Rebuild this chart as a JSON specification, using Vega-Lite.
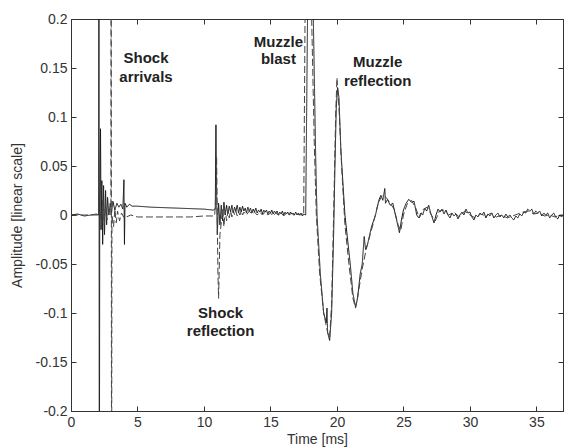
{
  "$schema": "https://vega.github.io/schema/vega-lite/v6.json",
  "width": 492,
  "height": 392,
  "autosize": {"type": "none"},
  "padding": {"left": 71, "top": 19, "right": 1, "bottom": 36},
  "background": "white",
  "config": {
    "view": {"stroke": "#333", "strokeWidth": 1},
    "font": "Liberation Sans",
    "axis": {
      "domainColor": "#333", "tickColor": "#333", "labelColor": "#333", "titleColor": "#333",
      "labelFont": "Liberation Sans", "titleFont": "Liberation Sans",
      "labelFontSize": 14, "titleFontSize": 14, "titleFontWeight": "normal",
      "grid": false, "tickSize": -5, "labelPadding": 9, "labelFlush": false, "labelOverlap": false
    }
  },
  "datasets": {
    "sig": [
      {"s":"a","t":0,"v":0.0},{"s":"a","t":0.5,"v":0.001},{"s":"a","t":1.0,"v":-0.001},{"s":"a","t":1.5,"v":0.0},{"s":"a","t":1.9,"v":0.001},
      {"s":"a","t":2.08,"v":0.0},{"s":"a","t":2.1,"v":0.4},{"s":"a","t":2.13,"v":-0.4},{"s":"a","t":2.16,"v":0.0},{"s":"a","t":2.22,"v":0.088},
      {"s":"a","t":2.26,"v":-0.015},{"s":"a","t":2.32,"v":0.035},{"s":"a","t":2.38,"v":-0.03},{"s":"a","t":2.45,"v":0.03},{"s":"a","t":2.52,"v":-0.02},
      {"s":"a","t":2.6,"v":0.025},{"s":"a","t":2.68,"v":-0.01},{"s":"a","t":2.75,"v":0.018},{"s":"a","t":2.85,"v":0.0},{"s":"a","t":2.95,"v":0.012},
      {"s":"a","t":3.05,"v":0.002},{"s":"a","t":3.15,"v":0.014},{"s":"a","t":3.3,"v":0.005},{"s":"a","t":3.45,"v":0.012},{"s":"a","t":3.6,"v":0.008},
      {"s":"a","t":3.75,"v":0.011},{"s":"a","t":3.9,"v":0.006},{"s":"a","t":3.98,"v":0.036},{"s":"a","t":4.02,"v":-0.03},{"s":"a","t":4.06,"v":0.012},
      {"s":"a","t":4.2,"v":0.008},{"s":"a","t":4.4,"v":0.011},{"s":"a","t":4.6,"v":0.009},{"s":"a","t":5.0,"v":0.009},{"s":"a","t":6.0,"v":0.008},
      {"s":"a","t":7.0,"v":0.0075},{"s":"a","t":8.0,"v":0.007},{"s":"a","t":9.0,"v":0.0065},{"s":"a","t":10.0,"v":0.006},{"s":"a","t":10.7,"v":0.005},
      {"s":"a","t":10.85,"v":0.006},{"s":"a","t":10.9,"v":0.092},{"s":"a","t":10.95,"v":0.02},{"s":"a","t":11.0,"v":-0.02},{"s":"a","t":11.1,"v":0.012},
      {"s":"a","t":11.2,"v":-0.01},{"s":"a","t":11.3,"v":0.01},{"s":"a","t":11.4,"v":-0.006},{"s":"a","t":11.5,"v":0.013},{"s":"a","t":11.6,"v":0.0},
      {"s":"a","t":11.7,"v":0.01},{"s":"a","t":11.8,"v":0.001},{"s":"a","t":11.9,"v":0.009},{"s":"a","t":12.0,"v":0.003},{"s":"a","t":12.1,"v":0.01},
      {"s":"a","t":12.2,"v":0.002},{"s":"a","t":12.3,"v":0.008},{"s":"a","t":12.4,"v":0.004},{"s":"a","t":12.5,"v":0.01},{"s":"a","t":12.6,"v":0.002},
      {"s":"a","t":12.7,"v":0.008},{"s":"a","t":12.8,"v":0.003},{"s":"a","t":12.9,"v":0.009},{"s":"a","t":13.0,"v":0.004},{"s":"a","t":13.1,"v":0.007},
      {"s":"a","t":13.2,"v":0.002},{"s":"a","t":13.3,"v":0.008},{"s":"a","t":13.4,"v":0.004},{"s":"a","t":13.5,"v":0.007},{"s":"a","t":13.6,"v":0.002},
      {"s":"a","t":13.7,"v":0.006},{"s":"a","t":13.8,"v":0.003},{"s":"a","t":13.9,"v":0.007},{"s":"a","t":14.0,"v":0.002},{"s":"a","t":14.1,"v":0.005},
      {"s":"a","t":14.2,"v":0.003},{"s":"a","t":14.3,"v":0.006},{"s":"a","t":14.4,"v":0.001},{"s":"a","t":14.5,"v":0.005},{"s":"a","t":14.6,"v":0.003},
      {"s":"a","t":14.7,"v":0.005},{"s":"a","t":14.8,"v":0.001},{"s":"a","t":14.9,"v":0.004},{"s":"a","t":15.0,"v":0.002},{"s":"a","t":15.1,"v":0.005},
      {"s":"a","t":15.2,"v":0.001},{"s":"a","t":15.3,"v":0.004},{"s":"a","t":15.4,"v":0.002},{"s":"a","t":15.5,"v":0.004},{"s":"a","t":15.6,"v":0.0},
      {"s":"a","t":15.7,"v":0.003},{"s":"a","t":15.8,"v":0.001},{"s":"a","t":15.9,"v":0.004},{"s":"a","t":16.0,"v":0.0},{"s":"a","t":16.1,"v":0.003},
      {"s":"a","t":16.2,"v":0.001},{"s":"a","t":16.3,"v":0.003},{"s":"a","t":16.4,"v":0.0},{"s":"a","t":16.5,"v":0.003},{"s":"a","t":16.6,"v":0.001},
      {"s":"a","t":16.7,"v":0.002},{"s":"a","t":16.8,"v":0.0},{"s":"a","t":16.9,"v":0.003},{"s":"a","t":17.0,"v":0.0},{"s":"a","t":17.1,"v":0.002},
      {"s":"a","t":17.2,"v":0.0},{"s":"a","t":17.3,"v":0.002},{"s":"a","t":17.4,"v":-0.001},{"s":"a","t":17.5,"v":0.001},{"s":"a","t":17.65,"v":0.0},
      {"s":"a","t":17.8,"v":0.22},{"s":"a","t":18.0,"v":0.3},{"s":"a","t":18.2,"v":0.22},{"s":"a","t":18.4,"v":0.06},{"s":"a","t":18.5,"v":0.0},
      {"s":"a","t":18.75,"v":-0.06},{"s":"a","t":19.0,"v":-0.1},{"s":"a","t":19.2,"v":-0.11},{"s":"a","t":19.25,"v":-0.095},{"s":"a","t":19.3,"v":-0.12},
      {"s":"a","t":19.45,"v":-0.128},{"s":"a","t":19.6,"v":-0.1},{"s":"a","t":19.75,"v":-0.02},{"s":"a","t":19.85,"v":0.05},{"s":"a","t":19.95,"v":0.11},
      {"s":"a","t":20.05,"v":0.13},{"s":"a","t":20.15,"v":0.12},{"s":"a","t":20.3,"v":0.065},{"s":"a","t":20.6,"v":0.0},{"s":"a","t":21.0,"v":-0.05},
      {"s":"a","t":21.2,"v":-0.08},{"s":"a","t":21.4,"v":-0.094},{"s":"a","t":21.55,"v":-0.085},{"s":"a","t":21.75,"v":-0.06},{"s":"a","t":21.9,"v":-0.05},
      {"s":"a","t":22.05,"v":-0.022},{"s":"a","t":22.15,"v":-0.035},{"s":"a","t":22.3,"v":-0.03},{"s":"a","t":22.6,"v":-0.012},{"s":"a","t":22.9,"v":0.0},
      {"s":"a","t":23.15,"v":0.015},{"s":"a","t":23.3,"v":0.02},{"s":"a","t":23.45,"v":0.015},{"s":"a","t":23.6,"v":0.027},{"s":"a","t":23.65,"v":0.012},
      {"s":"a","t":23.8,"v":0.016},{"s":"a","t":24.0,"v":0.01},{"s":"a","t":24.2,"v":0.012},{"s":"a","t":24.4,"v":0.0},{"s":"a","t":24.6,"v":-0.012},
      {"s":"a","t":24.7,"v":-0.018},{"s":"a","t":24.85,"v":-0.005},{"s":"a","t":25.0,"v":0.005},{"s":"a","t":25.2,"v":0.012},{"s":"a","t":25.4,"v":0.016},
      {"s":"a","t":25.6,"v":0.013},{"s":"a","t":25.8,"v":0.014},
      {"s":"a","t":26.0,"v":0.0},{"s":"a","t":26.15,"v":-0.003},{"s":"a","t":26.3,"v":0.002},{"s":"a","t":26.45,"v":0.0},{"s":"a","t":26.6,"v":0.007},
      {"s":"a","t":26.75,"v":0.004},{"s":"a","t":26.9,"v":0.01},{"s":"a","t":27.05,"v":0.002},{"s":"a","t":27.2,"v":-0.004},{"s":"a","t":27.3,"v":-0.008},
      {"s":"a","t":27.45,"v":0.0},{"s":"a","t":27.6,"v":0.006},{"s":"a","t":27.75,"v":0.003},{"s":"a","t":27.9,"v":0.006},{"s":"a","t":28.05,"v":0.001},
      {"s":"a","t":28.2,"v":0.005},{"s":"a","t":28.35,"v":0.0},{"s":"a","t":28.5,"v":-0.003},{"s":"a","t":28.65,"v":0.002},{"s":"a","t":28.8,"v":-0.001},
      {"s":"a","t":28.95,"v":0.001},{"s":"a","t":29.1,"v":-0.004},{"s":"a","t":29.25,"v":0.0},{"s":"a","t":29.4,"v":0.003},{"s":"a","t":29.55,"v":0.0},
      {"s":"a","t":29.7,"v":0.006},{"s":"a","t":29.85,"v":0.002},{"s":"a","t":30.0,"v":0.003},{"s":"a","t":30.15,"v":-0.002},{"s":"a","t":30.3,"v":-0.005},
      {"s":"a","t":30.45,"v":0.0},{"s":"a","t":30.6,"v":-0.002},{"s":"a","t":30.75,"v":0.002},{"s":"a","t":30.9,"v":0.0},{"s":"a","t":31.05,"v":0.003},
      {"s":"a","t":31.2,"v":-0.003},{"s":"a","t":31.35,"v":0.001},{"s":"a","t":31.5,"v":-0.001},{"s":"a","t":31.65,"v":0.002},{"s":"a","t":31.8,"v":-0.003},
      {"s":"a","t":31.95,"v":0.0},{"s":"a","t":32.1,"v":0.002},{"s":"a","t":32.25,"v":-0.002},{"s":"a","t":32.4,"v":0.0},{"s":"a","t":32.55,"v":-0.003},
      {"s":"a","t":32.7,"v":0.001},{"s":"a","t":32.85,"v":-0.002},{"s":"a","t":33.0,"v":0.0},{"s":"a","t":33.15,"v":-0.003},{"s":"a","t":33.3,"v":-0.005},
      {"s":"a","t":33.45,"v":-0.001},{"s":"a","t":33.6,"v":-0.003},{"s":"a","t":33.75,"v":0.001},{"s":"a","t":33.9,"v":-0.001},{"s":"a","t":34.05,"v":0.003},
      {"s":"a","t":34.2,"v":0.002},{"s":"a","t":34.35,"v":0.006},{"s":"a","t":34.5,"v":0.004},{"s":"a","t":34.65,"v":0.006},{"s":"a","t":34.8,"v":0.001},
      {"s":"a","t":34.95,"v":0.004},{"s":"a","t":35.1,"v":0.002},{"s":"a","t":35.25,"v":0.004},{"s":"a","t":35.4,"v":-0.001},{"s":"a","t":35.55,"v":0.002},
      {"s":"a","t":35.7,"v":0.0},{"s":"a","t":35.85,"v":0.002},{"s":"a","t":36.0,"v":-0.003},{"s":"a","t":36.15,"v":0.0},{"s":"a","t":36.3,"v":0.002},
      {"s":"a","t":36.45,"v":-0.002},{"s":"a","t":36.6,"v":-0.004},{"s":"a","t":36.75,"v":0.0},{"s":"a","t":36.9,"v":-0.002},{"s":"a","t":37.0,"v":0.0},

      {"s":"b","t":0,"v":0.0},{"s":"b","t":1.0,"v":0.0},{"s":"b","t":2.0,"v":0.0},{"s":"b","t":2.2,"v":0.002},{"s":"b","t":2.3,"v":-0.01},
      {"s":"b","t":2.4,"v":0.015},{"s":"b","t":2.5,"v":-0.01},{"s":"b","t":2.6,"v":0.01},{"s":"b","t":2.7,"v":-0.005},{"s":"b","t":2.9,"v":0.005},
      {"s":"b","t":3.0,"v":0.0},{"s":"b","t":3.02,"v":0.4},{"s":"b","t":3.05,"v":-0.4},{"s":"b","t":3.08,"v":0.0},{"s":"b","t":3.2,"v":-0.012},
      {"s":"b","t":3.3,"v":0.006},{"s":"b","t":3.4,"v":-0.008},{"s":"b","t":3.5,"v":0.004},{"s":"b","t":3.65,"v":-0.006},{"s":"b","t":3.8,"v":0.002},
      {"s":"b","t":4.0,"v":-0.003},{"s":"b","t":4.5,"v":0.0},{"s":"b","t":5.0,"v":-0.002},{"s":"b","t":6.0,"v":-0.002},{"s":"b","t":7.0,"v":-0.002},
      {"s":"b","t":8.0,"v":-0.002},{"s":"b","t":9.0,"v":-0.002},{"s":"b","t":10.0,"v":-0.001},{"s":"b","t":10.8,"v":-0.001},{"s":"b","t":10.9,"v":0.02},
      {"s":"b","t":10.95,"v":0.06},{"s":"b","t":11.05,"v":-0.06},{"s":"b","t":11.1,"v":-0.085},{"s":"b","t":11.2,"v":-0.02},{"s":"b","t":11.3,"v":-0.008},
      {"s":"b","t":11.4,"v":0.006},{"s":"b","t":11.5,"v":-0.012},{"s":"b","t":11.6,"v":0.005},{"s":"b","t":11.7,"v":-0.006},{"s":"b","t":11.8,"v":0.004},
      {"s":"b","t":11.9,"v":-0.003},{"s":"b","t":12.0,"v":0.004},{"s":"b","t":12.1,"v":-0.002},{"s":"b","t":12.2,"v":0.005},{"s":"b","t":12.3,"v":0.0},
      {"s":"b","t":12.4,"v":0.004},{"s":"b","t":12.5,"v":-0.001},{"s":"b","t":12.6,"v":0.003},{"s":"b","t":12.7,"v":0.0},{"s":"b","t":12.8,"v":0.004},
      {"s":"b","t":12.9,"v":0.0},{"s":"b","t":13.0,"v":0.003},{"s":"b","t":13.2,"v":0.0},{"s":"b","t":13.4,"v":0.004},{"s":"b","t":13.6,"v":0.001},
      {"s":"b","t":13.8,"v":0.003},{"s":"b","t":14.0,"v":0.0},{"s":"b","t":14.2,"v":0.003},{"s":"b","t":14.4,"v":0.0},{"s":"b","t":14.6,"v":0.003},
      {"s":"b","t":14.8,"v":0.0},{"s":"b","t":15.0,"v":0.002},{"s":"b","t":15.2,"v":-0.001},{"s":"b","t":15.4,"v":0.002},{"s":"b","t":15.6,"v":0.0},
      {"s":"b","t":15.8,"v":0.002},{"s":"b","t":16.0,"v":-0.001},{"s":"b","t":16.2,"v":0.002},{"s":"b","t":16.4,"v":0.0},{"s":"b","t":16.6,"v":0.002},
      {"s":"b","t":16.8,"v":-0.001},{"s":"b","t":17.0,"v":0.001},{"s":"b","t":17.2,"v":0.0},{"s":"b","t":17.4,"v":0.001},{"s":"b","t":17.5,"v":0.0},
      {"s":"b","t":17.6,"v":0.2},{"s":"b","t":17.85,"v":0.3},{"s":"b","t":18.1,"v":0.2},{"s":"b","t":18.3,"v":0.07},{"s":"b","t":18.45,"v":0.0},
      {"s":"b","t":18.7,"v":-0.06},{"s":"b","t":19.0,"v":-0.1},{"s":"b","t":19.3,"v":-0.12},{"s":"b","t":19.45,"v":-0.125},{"s":"b","t":19.6,"v":-0.09},
      {"s":"b","t":19.75,"v":0.0},{"s":"b","t":19.9,"v":0.1},{"s":"b","t":20.0,"v":0.14},{"s":"b","t":20.15,"v":0.11},{"s":"b","t":20.35,"v":0.05},
      {"s":"b","t":20.6,"v":-0.01},{"s":"b","t":20.9,"v":-0.05},{"s":"b","t":21.2,"v":-0.085},{"s":"b","t":21.4,"v":-0.095},{"s":"b","t":21.6,"v":-0.08},
      {"s":"b","t":21.9,"v":-0.055},{"s":"b","t":22.2,"v":-0.035},{"s":"b","t":22.5,"v":-0.02},{"s":"b","t":22.8,"v":-0.005},{"s":"b","t":23.1,"v":0.012},
      {"s":"b","t":23.4,"v":0.02},{"s":"b","t":23.7,"v":0.018},{"s":"b","t":24.0,"v":0.012},{"s":"b","t":24.3,"v":0.006},{"s":"b","t":24.6,"v":-0.01},
      {"s":"b","t":24.8,"v":-0.016},{"s":"b","t":25.0,"v":0.0},{"s":"b","t":25.3,"v":0.012},{"s":"b","t":25.6,"v":0.015},{"s":"b","t":25.9,"v":0.008},
      {"s":"b","t":26.2,"v":-0.003},{"s":"b","t":26.5,"v":0.006},{"s":"b","t":26.8,"v":0.008},{"s":"b","t":27.1,"v":0.0},{"s":"b","t":27.4,"v":-0.006},
      {"s":"b","t":27.7,"v":0.004},{"s":"b","t":28.0,"v":0.005},{"s":"b","t":28.4,"v":0.0},{"s":"b","t":28.8,"v":0.003},{"s":"b","t":29.2,"v":-0.002},
      {"s":"b","t":29.6,"v":0.004},{"s":"b","t":30.0,"v":0.0},{"s":"b","t":30.4,"v":-0.003},{"s":"b","t":30.8,"v":0.001},{"s":"b","t":31.2,"v":-0.001},
      {"s":"b","t":31.6,"v":0.002},{"s":"b","t":32.0,"v":-0.002},{"s":"b","t":32.4,"v":0.0},{"s":"b","t":32.8,"v":-0.003},{"s":"b","t":33.2,"v":-0.001},
      {"s":"b","t":33.6,"v":0.001},{"s":"b","t":34.0,"v":0.003},{"s":"b","t":34.4,"v":0.004},{"s":"b","t":34.8,"v":0.001},{"s":"b","t":35.2,"v":0.002},
      {"s":"b","t":35.6,"v":-0.001},{"s":"b","t":36.0,"v":0.0},{"s":"b","t":36.4,"v":-0.002},{"s":"b","t":36.8,"v":0.0},{"s":"b","t":37.0,"v":0.0}
    ],
    "ann": [
      {"t":5.64,"v":0.160,"label":"Shock"},
      {"t":5.64,"v":0.141,"label":"arrivals"},
      {"t":15.6,"v":0.1765,"label":"Muzzle"},
      {"t":15.6,"v":0.159,"label":"blast"},
      {"t":23.06,"v":0.156,"label":"Muzzle"},
      {"t":23.06,"v":0.137,"label":"reflection"},
      {"t":11.25,"v":-0.100,"label":"Shock"},
      {"t":11.25,"v":-0.118,"label":"reflection"}
    ]
  },
  "layer": [
    {
      "data": {"name": "sig"},
      "mark": {"type": "line", "clip": true, "strokeWidth": 1},
      "encoding": {
        "x": {"field": "t", "type": "quantitative",
          "scale": {"domain": [0, 37], "nice": false, "zero": false},
          "axis": {"orient": "bottom", "title": "Time [ms]", "values": [0,5,10,15,20,25,30,35], "titlePadding": 3}},
        "y": {"field": "v", "type": "quantitative",
          "scale": {"domain": [-0.2, 0.2], "nice": false, "zero": false},
          "axis": {"orient": "left", "title": "Amplitude [linear scale]", "values": [-0.2,-0.15,-0.1,-0.05,0,0.05,0.1,0.15,0.2],
            "labelExpr": "'' + datum.value", "titlePadding": 11}},
        "color": {"field": "s", "type": "nominal", "scale": {"domain": ["a","b"], "range": ["#111111","#444444"]}, "legend": null},
        "strokeDash": {"field": "s", "type": "nominal", "scale": {"domain": ["a","b"], "range": [[1,0],[7,3]]}, "legend": null}
      }
    },
    {
      "data": {"name": "ann"},
      "mark": {"type": "text", "font": "Liberation Sans", "fontWeight": "bold", "fontSize": 15, "color": "#222222", "align": "center", "baseline": "middle"},
      "encoding": {
        "x": {"field": "t", "type": "quantitative",
          "scale": {"domain": [0, 37], "nice": false, "zero": false},
          "axis": {"orient": "top", "labels": false, "title": null, "values": [0,5,10,15,20,25,30,35]}},
        "y": {"field": "v", "type": "quantitative",
          "scale": {"domain": [-0.2, 0.2], "nice": false, "zero": false},
          "axis": {"orient": "right", "labels": false, "title": null, "values": [-0.2,-0.15,-0.1,-0.05,0,0.05,0.1,0.15,0.2]}},
        "text": {"field": "label"}
      }
    }
  ],
  "resolve": {"axis": {"x": "independent", "y": "independent"}}
}
